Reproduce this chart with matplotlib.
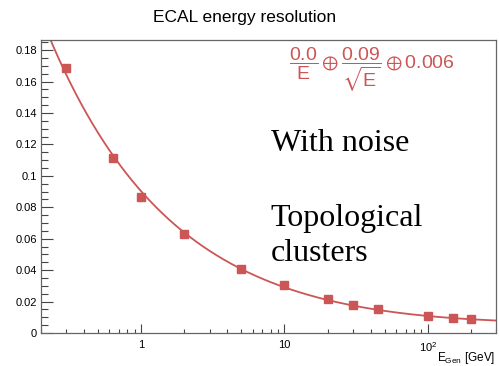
import numpy as np
import matplotlib
matplotlib.use('Agg')
import matplotlib.pyplot as plt
from matplotlib.ticker import FixedLocator, FixedFormatter, MultipleLocator

# 数据点
energy = [0.3, 0.64, 1, 2, 5, 10, 20, 30, 45, 100, 150, 200]
resolution = [0.1686, 0.1111, 0.0867, 0.0632, 0.0409, 0.0303,
              0.0218, 0.0180, 0.0151, 0.0110, 0.0097, 0.0089]

# 拟合参数 a/E (+) b/sqrt(E) (+) c
fit_a, fit_b, fit_c = 0.0, 0.09, 0.006

plt.rcParams['font.family'] = ['Liberation Sans', 'DejaVu Sans']
plt.rcParams['mathtext.fontset'] = 'custom'
plt.rcParams['mathtext.rm'] = 'Liberation Sans'
plt.rcParams['mathtext.it'] = 'Liberation Sans:italic'
plt.rcParams['mathtext.fallback'] = 'stixsans'

red = '#cc5555'

fig = plt.figure(figsize=(4.99, 3.66), dpi=100)
ax = fig.add_axes([0.0822, 0.0902, 0.912, 0.8005])

# 拟合曲线
e_fit = np.logspace(np.log10(0.2), np.log10(300), 400)
res_fit = np.sqrt((fit_a / e_fit)**2 + fit_b**2 / e_fit + fit_c**2)
ax.plot(e_fit, res_fit, color=red, lw=1.3, zorder=2)
ax.plot(energy, resolution, 's', color=red, ms=5.5, zorder=3)

ax.set_xscale('log')
ax.set_xlim(0.2, 300)
ax.set_ylim(0, 0.1865)

ax.xaxis.set_major_locator(FixedLocator([1, 10, 100]))
ax.xaxis.set_major_formatter(FixedFormatter(['1', '10', r'10$^{2}$']))
minors = [m * 10.0**k for k in range(-1, 3) for m in range(2, 10)]
ax.xaxis.set_minor_locator(FixedLocator([v for v in minors if 0.2 <= v <= 300]))
ax.xaxis.set_minor_formatter(FixedFormatter([]))
ax.yaxis.set_major_locator(MultipleLocator(0.02))
ax.yaxis.set_minor_locator(MultipleLocator(0.005))
ax.yaxis.set_major_formatter(plt.FuncFormatter(lambda v, p: '0' if v == 0 else f'{v:g}'))

ax.tick_params(axis='both', which='both', direction='in', labelsize=8,
               colors='#444444', labelcolor='black', width=0.8)
ax.tick_params(axis='y', which='major', length=8.6, pad=3)
ax.tick_params(axis='y', which='minor', length=4.8)
ax.tick_params(axis='x', which='major', length=6.5, pad=5)
ax.tick_params(axis='x', which='minor', length=3.2)
for s in ax.spines.values():
    s.set_color('#666666')
    s.set_linewidth(0.9)

fig.text(0.491, 0.951, 'ECAL energy resolution', ha='center', va='center', fontsize=12.5)
ax.text(0.998, -0.058, r'E$_{\mathrm{Gen}}$ [GeV]', transform=ax.transAxes,
        ha='right', va='top', fontsize=8.5)

ax.text(0.727, 0.898, r'$\dfrac{0.0}{\mathrm{E}}\oplus\dfrac{0.09}{\sqrt{\mathrm{E}}}\oplus 0.006$',
        transform=ax.transAxes, ha='center', va='center', fontsize=14, color=red)

ax.text(0.505, 0.622, 'With noise', transform=ax.transAxes, fontsize=23,
        family='Liberation Serif', ha='left', va='baseline')
ax.text(0.505, 0.366, 'Topological', transform=ax.transAxes, fontsize=23,
        family='Liberation Serif', ha='left', va='baseline')
ax.text(0.505, 0.246, 'clusters', transform=ax.transAxes, fontsize=23,
        family='Liberation Serif', ha='left', va='baseline')

fig.savefig('out.png', dpi=100)
